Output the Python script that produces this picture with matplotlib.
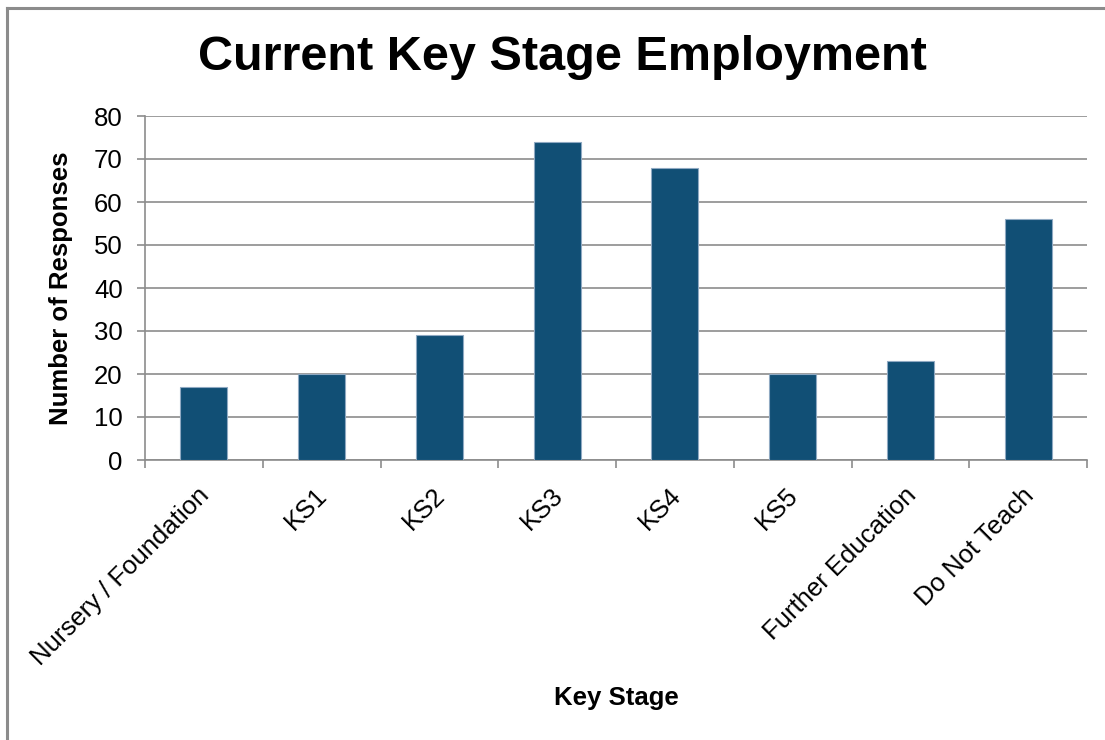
import matplotlib
matplotlib.use("Agg")
import matplotlib.pyplot as plt
from matplotlib.lines import Line2D
import matplotlib.transforms as mtransforms
import numpy as np

categories = ["Nursery / Foundation", "KS1", "KS2", "KS3", "KS4", "KS5",
              "Further Education", "Do Not Teach"]
responses = [17, 20, 29, 74, 68, 20, 23, 56]
y_ticks = [0, 10, 20, 30, 40, 50, 60, 70, 80]

plt.rcParams['font.family'] = ['Liberation Sans', 'DejaVu Sans']

fig = plt.figure(figsize=(11.05, 7.40), dpi=100)
ax = fig.add_axes([145/1105, 1-460/740, (1087-145)/1105, (460-116)/740])

x = np.arange(len(categories))
ax.bar(x, responses, width=0.4, color='#114f75', edgecolor='#8fa9c2', linewidth=0.8, zorder=3)

ax.set_xlim(-0.5, len(categories)-0.5)
ax.set_ylim(0, 80)
ax.set_yticks(y_ticks)
ax.set_yticklabels([str(v) for v in y_ticks], fontsize=18.5)
ax.yaxis.grid(True, color='#8c8c8c', linewidth=1.2, zorder=0)
ax.set_axisbelow(True)

# category boundary ticks
ax.set_xticks(np.arange(-0.5, len(categories)), minor=False)
ax.set_xticklabels([])
ax.set_xticks(x, minor=True)
ax.set_xticklabels(categories, minor=True, rotation=45, ha='right', va='center',
                   rotation_mode='anchor', fontsize=18.5)
ax.tick_params(axis='x', which='minor', length=0, pad=23)
ax.tick_params(axis='x', which='major', length=6, color='#8c8c8c', width=1.2)
ax.tick_params(axis='y', length=6, color='#8c8c8c', width=1.2, pad=10)

offset = mtransforms.ScaledTranslation(2/100, 0, fig.dpi_scale_trans)
for lbl in ax.get_xticklabels(minor=True):
    lbl.set_transform(lbl.get_transform() + offset)

for s in ['top', 'right']:
    ax.spines[s].set_visible(False)
for s in ['left', 'bottom']:
    ax.spines[s].set_color('#8c8c8c')
    ax.spines[s].set_linewidth(1.2)

ax.set_ylabel("Number of Responses", fontsize=18.5, fontweight='bold', labelpad=15)
fig.text(616/1105, 1-698/740, "Key Stage", fontsize=18.5, fontweight='bold',
         ha='center', va='center')
fig.text(562/1105, 1-57/740, "Current Key Stage Employment", fontsize=35,
         fontweight='bold', ha='center', va='center')

# outer frame
fig.add_artist(Line2D([7/1105, 7/1105], [0, 1-8/740], color='#8c8c8c', linewidth=2.2,
                      transform=fig.transFigure))
fig.add_artist(Line2D([7/1105, 1], [1-8/740, 1-8/740], color='#8c8c8c', linewidth=2.2,
                      transform=fig.transFigure))

fig.savefig("out.png", dpi=100)
